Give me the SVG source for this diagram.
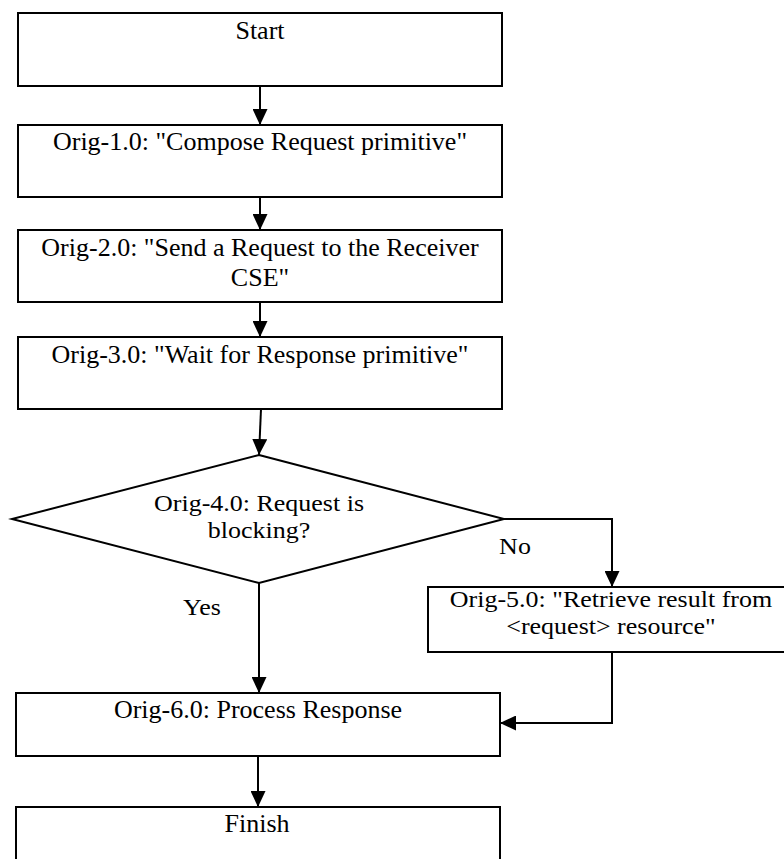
<svg xmlns="http://www.w3.org/2000/svg" width="784" height="859" viewBox="0 0 784 859">
  <style>
    .box { fill: #ffffff; stroke: #000000; stroke-width: 2; }
    .link { fill: none; stroke: #000000; stroke-width: 2; }
    .lbl { font-family: 'Liberation Serif', 'Tinos', 'DejaVu Serif', serif; font-size: 26px; fill: #000000; text-anchor: middle; }
  </style>
  <defs>
    <marker id="arrow" viewBox="0 0 16 15" refX="16" refY="7.5" markerWidth="16" markerHeight="15" markerUnits="userSpaceOnUse" orient="auto">
      <path d="M0,0 L16,7.5 L0,15 z" fill="#000000"/>
    </marker>
  </defs>

  <rect width="784" height="859" fill="#ffffff"/>

  <!-- flow connectors -->
  <g id="connectors">
    <path class="link" d="M260,86 L260,125" marker-end="url(#arrow)"/>
    <path class="link" d="M260,197 L260,230" marker-end="url(#arrow)"/>
    <path class="link" d="M260,302 L260,337" marker-end="url(#arrow)"/>
    <path class="link" d="M261,409 L259,455" marker-end="url(#arrow)"/>
    <path class="link" d="M504,519 L612,519 L612,587" marker-end="url(#arrow)"/>
    <path class="link" d="M259,583 L259,693" marker-end="url(#arrow)"/>
    <path class="link" d="M612,652 L612,723 L500,723" marker-end="url(#arrow)"/>
    <path class="link" d="M258,756 L258,807" marker-end="url(#arrow)"/>
    <text class="lbl" font-family="Liberation Serif, serif" transform="translate(515,554) scale(1,0.9)">No</text>
    <text class="lbl" font-family="Liberation Serif, serif" transform="translate(202,615) scale(1,0.9)">Yes</text>
  </g>

  <g id="start">
    <rect class="box" x="18" y="13" width="484" height="73"/>
    <text class="lbl" x="260" y="39">Start</text>
  </g>

  <g id="orig-1">
    <rect class="box" x="18" y="125" width="484" height="72"/>
    <text class="lbl" x="260" y="150">Orig-1.0: "Compose Request primitive"</text>
  </g>

  <g id="orig-2">
    <rect class="box" x="18" y="230" width="484" height="72"/>
    <text class="lbl" x="260" y="256">Orig-2.0: "Send a Request to the Receiver</text>
    <text class="lbl" x="260" y="286">CSE"</text>
  </g>

  <g id="orig-3">
    <rect class="box" x="18" y="337" width="484" height="72"/>
    <text class="lbl" x="260" y="363">Orig-3.0: "Wait for Response primitive"</text>
  </g>

  <g id="orig-4">
    <polygon class="box" points="259,455 504,519 259,583 12,519"/>
    <text class="lbl" transform="translate(259,511) scale(1,0.9)">Orig-4.0: Request is</text>
    <text class="lbl" transform="translate(259,538) scale(1,0.9)">blocking?</text>
  </g>

  <g id="orig-5">
    <rect class="box" x="428" y="587" width="366" height="65"/>
    <text class="lbl" transform="translate(611,607) scale(1,0.9)">Orig-5.0: "Retrieve result from</text>
    <text class="lbl" transform="translate(611,634) scale(1,0.9)">&lt;request&gt; resource"</text>
  </g>

  <g id="orig-6">
    <rect class="box" x="16" y="693" width="484" height="63"/>
    <text class="lbl" x="258" y="718">Orig-6.0: Process Response</text>
  </g>

  <g id="finish">
    <rect class="box" x="16" y="807" width="484" height="72"/>
    <text class="lbl" x="257" y="832">Finish</text>
  </g>
</svg>
